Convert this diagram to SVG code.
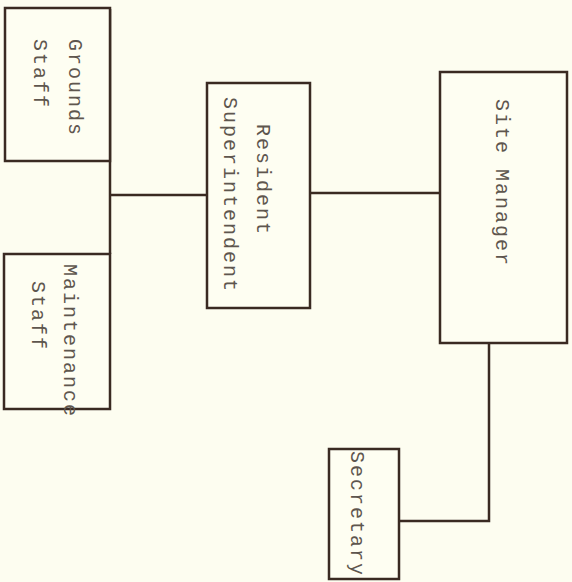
<svg xmlns="http://www.w3.org/2000/svg" width="572" height="582" viewBox="0 0 572 582">
<style>
.bg{fill:#fdfdf0}
.box{fill:#fefef2;stroke:#3a2a22;stroke-width:2.5}
.ln{fill:none;stroke:#3a2a22;stroke-width:2.5}
.t{font-family:"Liberation Mono","Courier New",monospace;font-size:20px;letter-spacing:2px;fill:#5e564e}
</style>
<rect class="bg" x="0" y="0" width="572" height="582"/>
<g id="connectors">
<path class="ln" d="M110 9 V254"/>
<path class="ln" d="M110 195 H207"/>
<path class="ln" d="M310 193 H440"/>
<path class="ln" d="M489 343 V521 H399"/>
</g>
<g id="grounds-staff">
<rect class="box" x="5" y="8" width="105" height="153"/>
<text class="t" transform="rotate(90 69 39)" x="69" y="39">Grounds</text>
<text class="t" transform="rotate(90 34 39)" x="34" y="39">Staff</text>
</g>
<g id="maintenance-staff">
<rect class="box" x="4" y="254" width="106" height="155"/>
<text class="t" transform="rotate(90 64 264)" x="64" y="264">Maintenance</text>
<text class="t" transform="rotate(90 32 281)" x="32" y="281">Staff</text>
</g>
<g id="resident-superintendent">
<rect class="box" x="207" y="83" width="103" height="225"/>
<text class="t" transform="rotate(90 257 124)" x="257" y="124">Resident</text>
<text class="t" transform="rotate(90 224 97)" x="224" y="97">Superintendent</text>
</g>
<g id="site-manager">
<rect class="box" x="440" y="72" width="127" height="271"/>
<text class="t" transform="rotate(90 496 99)" x="496" y="99">Site Manager</text>
</g>
<g id="secretary">
<rect class="box" x="329" y="449" width="70" height="130"/>
<text class="t" transform="rotate(90 351 451)" x="351" y="451">Secretary</text>
</g>
</svg>
